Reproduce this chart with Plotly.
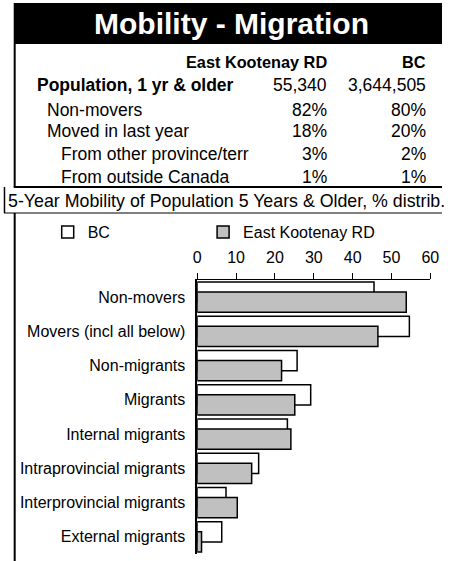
import plotly.graph_objects as go

W, H = 451, 561
FONT = "Liberation Sans, Arial, sans-serif"

# chart data
categories = [
    "Non-movers",
    "Movers (incl all below)",
    "Non-migrants",
    "Migrants",
    "Internal migrants",
    "Intraprovincial migrants",
    "Interprovincial migrants",
    "External migrants",
]
bc_values = [45.5, 54.6, 25.7, 29.2, 23.2, 15.8, 7.4, 6.3]
ek_values = [53.8, 46.5, 21.7, 25.1, 24.1, 14.0, 10.3, 1.1]
x_ticks = [0, 10, 20, 30, 40, 50, 60]

# table data
table_title = "Mobility - Migration"
table_cols = ["East Kootenay RD", "BC"]
table_labels = [
    "Population, 1 yr & older",
    "Non-movers",
    "Moved in last year",
    "From other province/terr",
    "From outside Canada",
]
table_ek = ["55,340", "82%", "18%", "3%", "1%"]
table_bc = ["3,644,505", "80%", "20%", "2%", "1%"]
chart_title = "5-Year Mobility of Population 5 Years & Older, % distrib."


def px(x):
    return x / W


def py(y):
    return 1 - y / H


fig = go.Figure()

fig.add_trace(go.Bar(
    y=categories, x=bc_values, name="BC", orientation="h",
    marker=dict(color="white", line=dict(color="black", width=1.5)),
    offset=-0.44, width=0.59, legend="legend",
))
fig.add_trace(go.Bar(
    y=categories, x=ek_values, name="East Kootenay RD", orientation="h",
    marker=dict(color="#c0c0c0", line=dict(color="black", width=1.5)),
    offset=-0.15, width=0.59, legend="legend2",
))

annotations = []


def note(text, x, y, size=17.5, anchor="left", color="black"):
    annotations.append(dict(
        text=text, x=px(x), y=py(y), xref="paper", yref="paper",
        xanchor=anchor, yanchor="middle", showarrow=False,
        font=dict(family=FONT, size=size, color=color),
    ))


note("<b>%s</b>" % table_title, 234, 23, size=30, anchor="center", color="white")
note("<b>%s</b>" % table_cols[0], 335, 62, size=16.3, anchor="right")
note("<b>%s</b>" % table_cols[1], 437, 62, size=16.3, anchor="right")

row_y = [85, 110, 131, 154, 177]
row_x = [32, 42, 42, 57, 57]
for i, label in enumerate(table_labels):
    txt = "<b>%s</b>" % label if i == 0 else label
    note(txt, row_x[i], row_y[i])
    note(table_ek[i], 335, row_y[i], anchor="right")
    note(table_bc[i], 437, row_y[i], anchor="right")

note(chart_title, 2, 201, size=17.8)

shapes = [
    dict(type="rect", xref="paper", yref="paper", x0=px(10), x1=px(451),
         y0=py(44), y1=py(3), fillcolor="black", line=dict(width=0)),
    dict(type="line", xref="paper", yref="paper", x0=px(11), x1=px(11),
         y0=py(44), y1=py(187), line=dict(color="black", width=2)),
    dict(type="line", xref="paper", yref="paper", x0=px(10), x1=px(451),
         y0=py(187), y1=py(187), line=dict(color="black", width=2)),
    dict(type="line", xref="paper", yref="paper", x0=px(0.5), x1=px(0.5),
         y0=py(187), y1=py(213), line=dict(color="black", width=1.5)),
    dict(type="line", xref="paper", yref="paper", x0=px(0), x1=px(451),
         y0=py(213), y1=py(213), line=dict(color="black", width=1)),
    dict(type="line", xref="paper", yref="paper", x0=px(11), x1=px(11),
         y0=py(213), y1=py(561), line=dict(color="black", width=2)),
]

legend_style = dict(
    orientation="h", yanchor="middle", xanchor="left", y=py(232),
    font=dict(size=16), bgcolor="rgba(0,0,0,0)",
)

fig.update_layout(
    width=W, height=H,
    margin=dict(l=0, r=0, t=0, b=0),
    paper_bgcolor="white", plot_bgcolor="white",
    barmode="overlay",
    font=dict(family=FONT, size=16, color="black"),
    showlegend=True,
    legend=dict(x=px(45), **legend_style),
    legend2=dict(x=px(205), **legend_style),
    annotations=annotations,
    shapes=shapes,
    xaxis=dict(
        domain=[px(199), px(439)], range=[0, 60], side="top",
        tickvals=x_ticks, ticks="outside", ticklen=6, tickcolor="black",
        showline=True, linecolor="black", linewidth=1,
        showgrid=False, zeroline=False, ticklabelstandoff=4,
        fixedrange=True,
    ),
    yaxis=dict(
        domain=[py(554), py(280)], autorange="reversed",
        showline=True, linecolor="black", linewidth=1.5,
        showgrid=False, ticks="", ticklabelstandoff=7,
        fixedrange=True,
    ),
)

# drop the default page margin so the figure sits at the window's corner
fig.write_html(
    "out.html",
    config={"displayModeBar": False},
    post_script="document.body.style.margin='0';document.body.style.overflow='hidden';",
)
